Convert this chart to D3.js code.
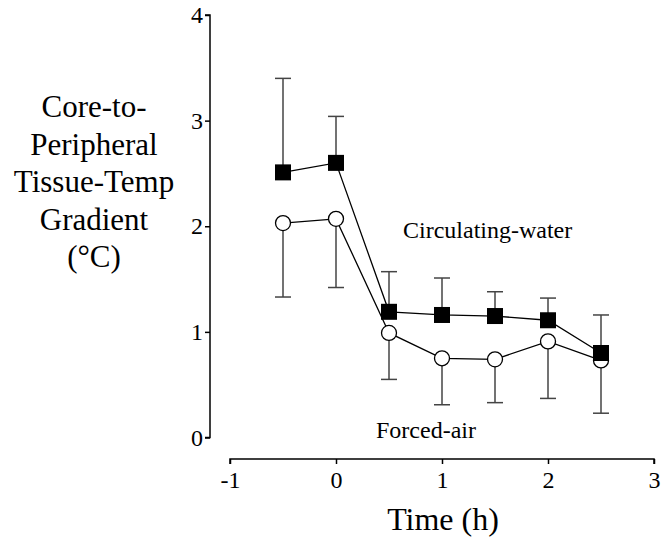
<!DOCTYPE html>
<html>
<head>
<meta charset="utf-8">
<script src="https://cdn.jsdelivr.net/npm/d3@7"></script>
<style>
  body { margin: 0; background: #fff; }
  text { font-family: "Liberation Serif", "Times New Roman", serif; fill: #000; }
</style>
</head>
<body>
<div id="chart"></div>
<script>
// time points (h)
var times = [-0.5, 0, 0.5, 1, 1.5, 2, 2.5];

// circulating-water (filled squares), mean and upper error
var waterMean = [2.51, 2.60, 1.19, 1.16, 1.15, 1.11, 0.80];
var waterUpper = [3.40, 3.04, 1.57, 1.51, 1.38, 1.32, 1.16];

// forced-air (open circles), mean and lower error
var airMean = [2.03, 2.07, 0.99, 0.75, 0.74, 0.91, 0.73];
var airLower = [1.33, 1.42, 0.55, 0.31, 0.33, 0.37, 0.23];

var xTicks = [-1, 0, 1, 2, 3];
var yTicks = [0, 1, 2, 3, 4];
var yLabelLines = ["Core-to-", "Peripheral", "Tissue-Temp", "Gradient", "(°C)"];

var width = 667, height = 542;

var svg = d3.select("#chart").append("svg")
    .attr("width", width)
    .attr("height", height);

var x = d3.scaleLinear().domain([-1, 3]).range([230, 654]);
var y = d3.scaleLinear().domain([0, 4]).range([437.5, 15]);

// plain hyphen for negatives, like the original
var fmt = d => String(d);

// y axis
var yAxis = d3.axisLeft(y).tickValues(yTicks).tickSize(5).tickPadding(2).tickFormat(fmt);
var gy = svg.append("g")
    .attr("transform", "translate(210,0)")
    .call(yAxis);
gy.select(".domain").attr("stroke", "#000").attr("stroke-width", 1.5).attr("d", "M-5," + y(4) + "H0V" + y(0) + "H-5");
gy.selectAll("line").attr("stroke-width", 1.5);
gy.selectAll("text").style("font-size", "24px").attr("font-family", null);

// x axis
var xAxis = d3.axisBottom(x).tickValues(xTicks).tickSize(5).tickPadding(7).tickFormat(fmt);
var gx = svg.append("g")
    .attr("transform", "translate(0,459)")
    .call(xAxis);
gx.select(".domain").attr("stroke-width", 1.5).attr("d", "M" + x(-1) + ",5V0H" + x(3) + "V5");
gx.selectAll("line").attr("stroke-width", 1.5);
gx.selectAll("text").style("font-size", "24px").attr("font-family", null);

// axis titles
svg.append("text")
    .attr("x", 443)
    .attr("y", 530)
    .attr("text-anchor", "middle")
    .style("font-size", "32px")
    .text("Time (h)");

svg.append("g").selectAll("text")
    .data(yLabelLines)
    .enter().append("text")
    .attr("x", 94)
    .attr("y", (d, i) => 117 + i * 37.5)
    .attr("text-anchor", "middle")
    .style("font-size", "31px")
    .text(d => d);

var capW = 8;
var errColor = "#444";

// error bars: water goes up, air goes down
var waterData = times.map((t, i) => ({ t: t, m: waterMean[i], e: waterUpper[i] }));
var airData = times.map((t, i) => ({ t: t, m: airMean[i], e: airLower[i] }));

function errorBars(data) {
    var g = svg.append("g").attr("stroke", errColor).attr("stroke-width", 1.5);
    g.selectAll(".stem").data(data).enter().append("line")
        .attr("x1", d => x(d.t)).attr("x2", d => x(d.t))
        .attr("y1", d => y(d.m)).attr("y2", d => y(d.e));
    g.selectAll(".cap").data(data).enter().append("line")
        .attr("x1", d => x(d.t) - capW).attr("x2", d => x(d.t) + capW)
        .attr("y1", d => y(d.e)).attr("y2", d => y(d.e));
}
errorBars(waterData);
errorBars(airData);

var line = d3.line().x(d => x(d.t)).y(d => y(d.m));

svg.append("path").datum(airData)
    .attr("d", line).attr("fill", "none").attr("stroke", "#000").attr("stroke-width", 1.3);
svg.append("path").datum(waterData)
    .attr("d", line).attr("fill", "none").attr("stroke", "#000").attr("stroke-width", 1.3);

svg.append("g").selectAll("circle").data(airData).enter().append("circle")
    .attr("cx", d => x(d.t)).attr("cy", d => y(d.m)).attr("r", 7.5)
    .attr("fill", "#fff").attr("stroke", "#000").attr("stroke-width", 1.3);

var sq = 16;
svg.append("g").selectAll("rect").data(waterData).enter().append("rect")
    .attr("x", d => x(d.t) - sq / 2).attr("y", d => y(d.m) - sq / 2)
    .attr("width", sq).attr("height", sq)
    .attr("fill", "#000");

// series labels
svg.append("text").attr("x", 403).attr("y", 238).style("font-size", "24px").text("Circulating-water");
svg.append("text").attr("x", 376).attr("y", 438).style("font-size", "24px").text("Forced-air");
</script>
</body>
</html>
